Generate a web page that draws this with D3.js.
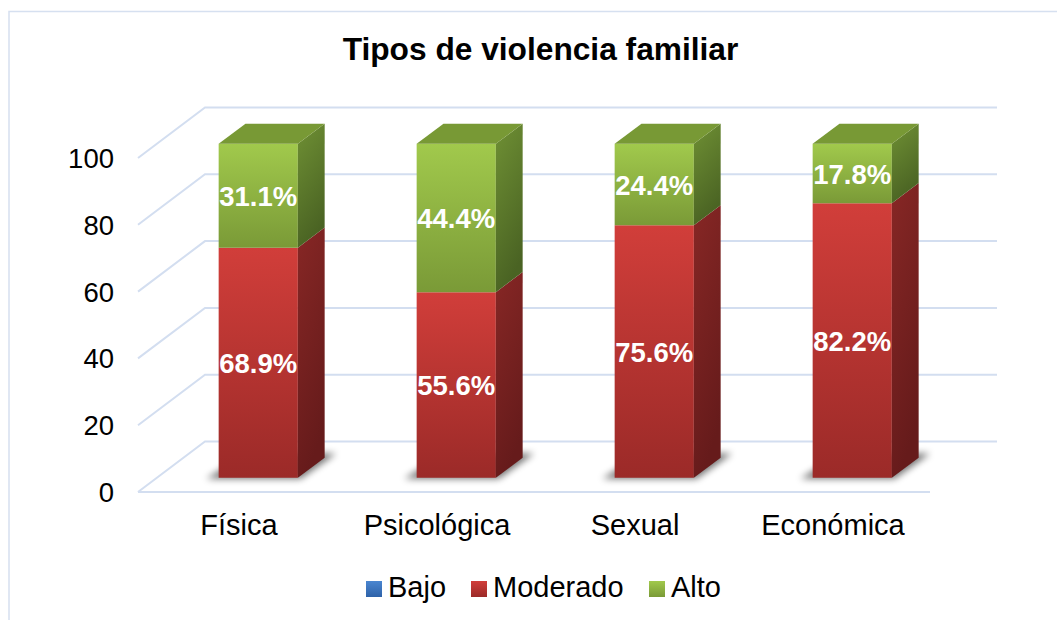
<!DOCTYPE html>
<html><head><meta charset="utf-8">
<script src="https://cdn.jsdelivr.net/npm/d3@7"></script>
<style>
html,body{margin:0;padding:0;background:#fff;}
svg{display:block;font-family:"Liberation Sans",Arial,sans-serif;}
</style></head>
<body>
<svg id="c" width="1057" height="620"></svg>
<script>
const categories = ["Física","Psicológica","Sexual","Económica"];
const seriesNames = ["Bajo","Moderado","Alto"];
const bajo = [0, 0, 0, 0];
const moderado = [68.9, 55.6, 75.6, 82.2];
const alto = [31.1, 44.4, 24.4, 17.8];
const yTicks = [0, 20, 40, 60, 80, 100];
const title = "Tipos de violencia familiar";

const svg = d3.select("#c");
const W = 1057, H = 620;

// frame
svg.append("rect").attr("x",9).attr("y",11.5).attr("width",W+20).attr("height",H+20)
  .attr("fill","none").attr("stroke","#d6e0f0").attr("stroke-width",1.5);

svg.append("text").attr("x",540.5).attr("y",60).attr("text-anchor","middle")
  .attr("font-size",31.7).attr("font-weight","bold").attr("fill","#000").text(title);

const DX = 67, DY = 50.5;
const y = d3.scaleLinear().domain([0,100]).range([492,158]);
const x = d3.scaleBand().domain(categories).range([138,930]);
const P = (xs, v, z) => [xs + DX*z, y(v) - DY*z];
const pts = a => a.map(p => p.join(",")).join(" ");

const defs = svg.append("defs");
function grad(id, c1, c2, x2, y2){
  const g = defs.append("linearGradient").attr("id",id)
    .attr("x1",0).attr("y1",0).attr("x2",x2).attr("y2",y2);
  g.append("stop").attr("offset","0%").attr("stop-color",c1);
  g.append("stop").attr("offset","100%").attr("stop-color",c2);
}
grad("gFront","#a1c94c","#7a9a37",0,1);
grad("gSide","#6f9034","#4a6323",0.3,1);
grad("rFront","#d13e3a","#9b2a28",0,1);
grad("rSide","#872725","#661b1b",0.3,1);
grad("bFront","#4a86d0","#2e62a8",0,1);
grad("bSide","#2c5a96","#1f4272",0.3,1);
const blur = defs.append("filter").attr("id","sh").attr("x","-50%").attr("y","-50%").attr("width","200%").attr("height","200%");
blur.append("feGaussianBlur").attr("stdDeviation",3.5);

// gridlines
const grid = svg.append("g").attr("stroke","#d3def0").attr("stroke-width",2).attr("fill","none");
yTicks.forEach(t => {
  const a = P(138, t, 0), b = P(138, t, 1), c = P(930, t, 1);
  grid.append("polyline").attr("points", pts([a,b,c]));
});
grid.append("line").attr("x1",138).attr("y1",y(0)).attr("x2",930).attr("y2",y(0));

// y tick labels
svg.append("g").selectAll("text").data(yTicks).join("text")
  .attr("x",114).attr("y",d => y(d)+10).attr("text-anchor","end")
  .attr("font-size",27.5).attr("fill","#000").text(d => d);

// x labels
svg.append("g").selectAll("text").data(categories).join("text")
  .attr("x",d => x(d)+x.bandwidth()/2+2).attr("y",535).attr("text-anchor","middle")
  .attr("font-size",29).attr("fill","#000").text(d => d);

const z0 = 0.28, z1 = 0.68;
const bw = x.bandwidth()*0.4;
const series = [
  {name:"Bajo", vals:bajo, front:"url(#bFront)", side:"url(#bSide)", top:"#3567b0"},
  {name:"Moderado", vals:moderado, front:"url(#rFront)", side:"url(#rSide)", top:"#a8302d"},
  {name:"Alto", vals:alto, front:"url(#gFront)", side:"url(#gSide)", top:"#789935"}
];

const bars = svg.append("g");
const labels = svg.append("g");
categories.forEach((c, i) => {
  const xl = x(c) + (x.bandwidth()-bw)/2 + 2.5, xr = xl + bw;
  // shadow
  bars.append("polygon")
    .attr("points", pts([P(xl-11,0,z0-0.02),P(xr+4,0,z0-0.02),P(xr+6,0,z1+0.08),P(xl-4,0,z1+0.08)]))
    .attr("fill","#000").attr("opacity",0.55).attr("filter","url(#sh)");
  let base = 0;
  const segs = [];
  series.forEach(s => {
    const v = s.vals[i];
    if (v <= 0) return;
    segs.push({s, v, v0:base, v1:base+v});
    base += v;
  });
  segs.forEach((g, k) => {
    const {s, v0, v1} = g;
    bars.append("polygon").attr("points", pts([P(xl,v1,z0),P(xr,v1,z0),P(xr,v0,z0),P(xl,v0,z0)]))
      .attr("fill", s.front);
    bars.append("polygon").attr("points", pts([P(xr,v1,z0),P(xr,v1,z1),P(xr,v0,z1),P(xr,v0,z0)]))
      .attr("fill", s.side);
    if (k === segs.length-1) {
      bars.append("polygon").attr("points", pts([P(xl,v1,z0),P(xr,v1,z0),P(xr,v1,z1),P(xl,v1,z1)]))
        .attr("fill", s.top);
    }
  });
  segs.forEach(g => {
    const cx = (xl+xr)/2 + DX*z0;
    const cy = (y(g.v0)+y(g.v1))/2 - DY*z0;
    labels.append("text").attr("x",cx).attr("y",cy+10).attr("text-anchor","middle")
      .attr("font-size",27.5).attr("font-weight","bold").attr("fill","#fff")
      .text(g.v.toFixed(1)+"%");
  });
});

// legend
const legX = [366, 471, 649];
const legColors = ["url(#bFront)","url(#rFront)","url(#gFront)"];
const leg = svg.append("g");
seriesNames.forEach((n, i) => {
  leg.append("rect").attr("x",legX[i]).attr("y",581).attr("width",16).attr("height",16).attr("fill",legColors[i]);
  leg.append("text").attr("x",legX[i]+22).attr("y",597).attr("font-size",29).attr("fill","#000").text(n);
});
</script>
</body></html>
